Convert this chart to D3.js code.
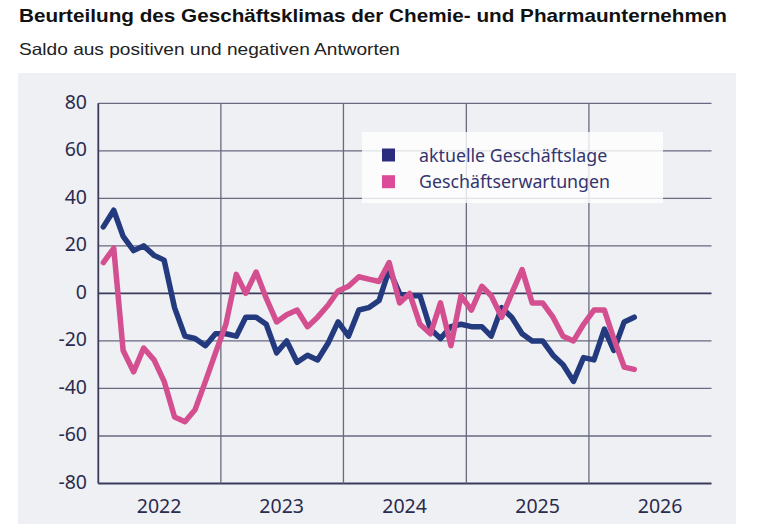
<!DOCTYPE html>
<html>
<head>
<meta charset="utf-8">
<script src="https://cdn.jsdelivr.net/npm/d3@7"></script>
<style>
  body { margin: 0; background: #fff; }
  svg { display: block; }
</style>
</head>
<body>
<div id="chart"></div>
<script>
// DATA (monthly, Jan 2022 - May 2026)
const lage = [
  28, 35, 24, 18, 20, 16, 14, -6, -18, -19, -22, -17,
  -17, -18, -10, -10, -13, -25, -20, -29, -26, -28, -21, -12,
  -18, -7, -6, -3, 10, 0, -1, -1, -15, -19, -14, -13,
  -14, -14, -18, -6, -10, -17, -20, -20, -26, -30, -37, -27,
  -28, -15, -24, -12, -10
];
const erwartungen = [
  13, 19, -24, -33, -23, -28, -37, -52, -54, -49, -37, -25,
  -13, 8, 0, 9, -2, -12, -9, -7, -14, -10, -5, 1,
  3, 7, 6, 5, 13, -4, 0, -13, -17, -4, -22, -1,
  -7, 3, -1, -10, 0, 10, -4, -4, -10, -18, -20, -13,
  -7, -7, -19, -31, -32
];
const yTicks = [80, 60, 40, 20, 0, -20, -40, -60, -80];
const yearLines = [2022, 2023, 2024, 2025, 2026];
const yearLabels = ["2022", "2023", "2024", "2025", "2026"];
const yearLabelMonths = [6, 6, 6, 7, 7]; // month where the label sits
const seriesNames = ["aktuelle Geschäftslage", "Geschäftserwartungen"];

const width = 760, height = 524;
const blue = "#243a7f", pink = "#d44f8f";

const svg = d3.select("#chart").append("svg")
  .attr("width", width)
  .attr("height", height);

// TITLE
svg.append("text")
  .attr("x", 19).attr("y", 22)
  .attr("font-family", "Liberation Sans, Arial, sans-serif")
  .attr("font-weight", "bold")
  .attr("font-size", 18.5)
  .attr("textLength", 708)
  .attr("lengthAdjust", "spacingAndGlyphs")
  .attr("fill", "#111")
  .text("Beurteilung des Geschäftsklimas der Chemie- und Pharmaunternehmen");

svg.append("text")
  .attr("x", 19).attr("y", 55)
  .attr("font-family", "Liberation Sans, Arial, sans-serif")
  .attr("font-size", 16.5)
  .attr("textLength", 381)
  .attr("lengthAdjust", "spacingAndGlyphs")
  .attr("fill", "#222")
  .text("Saldo aus positiven und negativen Antworten");

// PANEL
svg.append("rect")
  .attr("x", 18).attr("y", 73)
  .attr("width", 718).attr("height", height - 73)
  .attr("fill", "#eff0f3");

// SCALES
const xScale = d3.scaleTime()
  .domain([new Date(2022, 0, 1), new Date(2027, 0, 1)])
  .range([98.3, 711.5]);

const yScale = d3.scaleLinear()
  .domain([-80, 80])
  .range([483.5, 103.3]);

const g = svg.append("g");

// GRID
g.selectAll(".hgrid")
  .data(yTicks)
  .join("line")
    .attr("class", "hgrid")
    .attr("x1", xScale.range()[0])
    .attr("x2", xScale.range()[1])
    .attr("y1", d => yScale(d))
    .attr("y2", d => yScale(d))
    .attr("stroke", d => d === 0 || d === -80 ? "#3a3a5c" : "#676a80")
    .attr("stroke-width", d => d === 0 || d === -80 ? 1.8 : 1.3);

g.selectAll(".vgrid")
  .data(yearLines)
  .join("line")
    .attr("class", "vgrid")
    .attr("x1", d => xScale(new Date(d, 0, 1)))
    .attr("x2", d => xScale(new Date(d, 0, 1)))
    .attr("y1", yScale(80))
    .attr("y2", yScale(-80))
    .attr("stroke", d => d === 2022 ? "#3a3a5c" : "#676a80")
    .attr("stroke-width", d => d === 2022 ? 1.8 : 1.3);

// AXIS LABELS
g.selectAll(".ylab")
  .data(yTicks)
  .join("text")
    .attr("class", "ylab")
    .attr("x", 87)
    .attr("y", d => yScale(d) - 1.5)
    .attr("dy", "0.35em")
    .attr("text-anchor", "end")
    .attr("font-family", "Noto Sans, sans-serif")
    .attr("font-size", 19.5)
    .attr("fill", "#2b2b4e")
    .text(d => d);

g.selectAll(".xlab")
  .data(yearLabels)
  .join("text")
    .attr("class", "xlab")
    .attr("x", (d, i) => xScale(new Date(+d, yearLabelMonths[i], 1)))
    .attr("y", 513)
    .attr("text-anchor", "middle")
    .attr("font-family", "Noto Sans, sans-serif")
    .attr("font-size", 19.5)
    .attr("fill", "#2b2b4e")
    .text(d => d);

// LINES
const monthDate = i => new Date(2022, i, 16);
const line = d3.line()
  .x((d, i) => xScale(monthDate(i)))
  .y(d => yScale(d));

[[lage, blue], [erwartungen, pink]].forEach(([vals, col]) => {
  g.append("path")
    .datum(vals)
    .attr("d", line)
    .attr("fill", "none")
    .attr("stroke", col)
    .attr("stroke-width", 5.5)
    .attr("stroke-linejoin", "round")
    .attr("stroke-linecap", "round");
});

// LEGEND
const legend = svg.append("g");
legend.append("rect")
  .attr("x", 362).attr("y", 132)
  .attr("width", 301).attr("height", 71)
  .attr("fill", "#fff")
  .attr("fill-opacity", 0.8);

legend.selectAll(".sw")
  .data(seriesNames)
  .join("rect")
    .attr("class", "sw")
    .attr("x", 382)
    .attr("y", (d, i) => 148.5 + i * 26.7)
    .attr("width", 13).attr("height", 13)
    .attr("fill", (d, i) => i === 0 ? "#2c2c7e" : "#de4a9a");

legend.selectAll(".lt")
  .data(seriesNames)
  .join("text")
    .attr("class", "lt")
    .attr("x", 419)
    .attr("y", (d, i) => 161.5 + i * 26.7)
    .attr("font-family", "Noto Sans, sans-serif")
    .attr("font-size", 17.8)
    .attr("fill", "#34346e")
    .text(d => d);
</script>
</body>
</html>
